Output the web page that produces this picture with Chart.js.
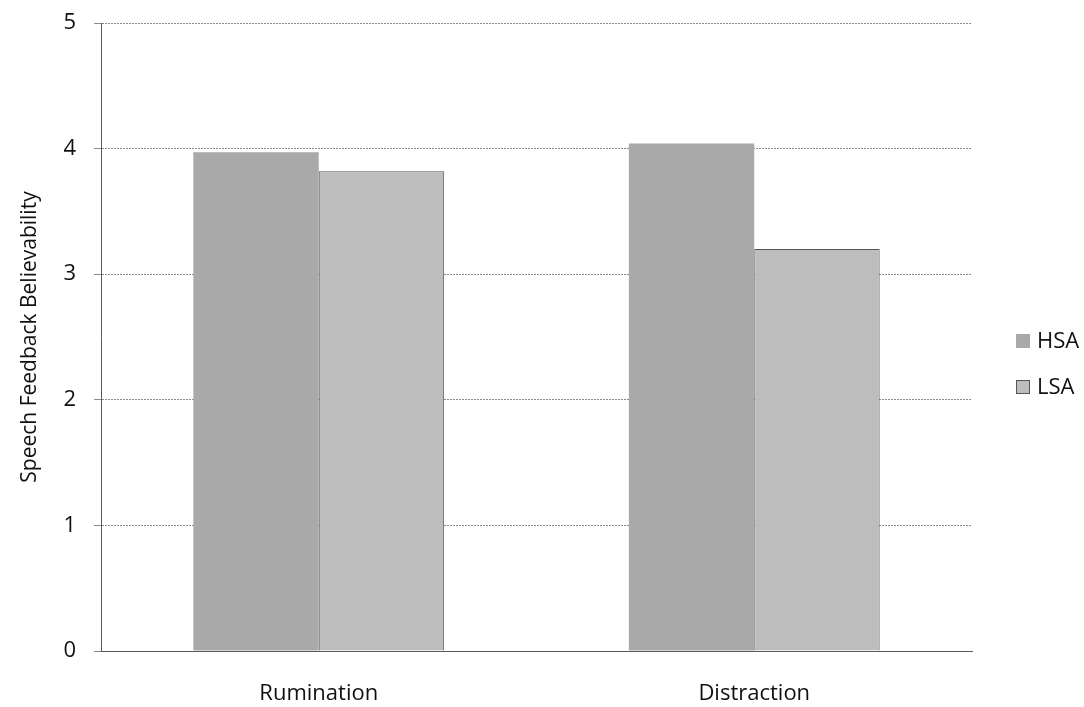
<!DOCTYPE html>
<html>
<head>
<meta charset="utf-8">
<script src="https://cdn.jsdelivr.net/npm/chart.js@4/dist/chart.umd.min.js"></script>
<style>
  html, body { margin: 0; padding: 0; background: #ffffff; }
  #wrap { width: 1084px; height: 707px; position: relative; }
</style>
</head>
<body>
<div id="wrap"><canvas id="chart" width="1084" height="707"></canvas></div>
<script>
// Chart data
const categories = ['Rumination', 'Distraction'];
const seriesNames = ['HSA', 'LSA'];
const hsaValues = [3.97, 4.04];
const lsaValues = [3.82, 3.20];
const yTickValues = [0, 1, 2, 3, 4, 5];
const yAxisTitle = 'Speech Feedback Believability';

const FONT = "'Open Sans', 'Noto Sans', sans-serif";
const hsaFill = '#a9a9a9';
const lsaFill = '#bdbdbd';

// Legend drawn at the right of the plot, one row per dataset
const sideLegend = {
  id: 'sideLegend',
  afterDraw(chart) {
    const ctx = chart.ctx;
    const x0 = 1016, box = 14, y0 = 341, step = 46;
    ctx.save();
    ctx.font = '22px ' + FONT;
    ctx.textBaseline = 'middle';
    ctx.textAlign = 'left';
    chart.data.datasets.forEach((ds, i) => {
      const cy = y0 + i * step;
      ctx.fillStyle = ds.backgroundColor;
      ctx.fillRect(x0, cy - box / 2, box, box);
      if (ds.borderWidth) {
        ctx.strokeStyle = ds.borderColor;
        ctx.lineWidth = 1;
        ctx.strokeRect(x0 + 0.5, cy - box / 2 + 0.5, box - 1, box - 1);
      }
      ctx.fillStyle = '#111111';
      ctx.fillText(ds.label, x0 + box + 7, cy + 1);
    });
    ctx.restore();
  }
};

new Chart(document.getElementById('chart'), {
  type: 'bar',
  data: {
    labels: categories,
    datasets: [
      {
        label: seriesNames[0],
        data: hsaValues,
        backgroundColor: hsaFill,
        borderColor: '#8f8f8f',
        borderWidth: 0,
        categoryPercentage: 0.576,
        barPercentage: 1.0
      },
      {
        label: seriesNames[1],
        data: lsaValues,
        backgroundColor: lsaFill,
        borderColor: '#555555',
        borderWidth: 1,
        categoryPercentage: 0.576,
        barPercentage: 1.0
      }
    ]
  },
  options: {
    responsive: false,
    animation: false,
    devicePixelRatio: 1,
    layout: { padding: { top: 23, right: 112, bottom: 0, left: 0 } },
    plugins: {
      legend: { display: false },
      tooltip: { enabled: false }
    },
    scales: {
      x: {
        grid: { display: false, drawTicks: false },
        border: { display: true, color: '#5a5a5a', width: 1 },
        ticks: {
          color: '#111111',
          font: { family: FONT, size: 22 },
          padding: 30,
          maxRotation: 0
        },
        afterFit(scale) {
          scale.height = 56;
          scale.paddingLeft = 0;
          scale.paddingRight = 0;
        }
      },
      y: {
        min: 0,
        max: 5,
        afterBuildTicks(scale) {
          scale.ticks = yTickValues.map(v => ({ value: v }));
        },
        grid: {
          color: '#8a8a8a',
          lineWidth: 1,
          drawTicks: true,
          tickLength: 7,
          tickColor: '#8a8a8a',
          borderDash: [2, 1]
        },
        border: { display: true, color: '#5a5a5a', width: 1, dash: [2, 1] },
        ticks: {
          color: '#111111',
          font: { family: FONT, size: 22 },
          padding: 18
        },
        title: {
          display: true,
          text: yAxisTitle,
          color: '#111111',
          font: { family: FONT, size: 21 },
          padding: { top: 17, bottom: 0 }
        },
        afterFit(scale) {
          scale.width = 101;
          scale.paddingTop = 0;
          scale.paddingBottom = 0;
        }
      }
    }
  },
  plugins: [sideLegend]
});
</script>
</body>
</html>
